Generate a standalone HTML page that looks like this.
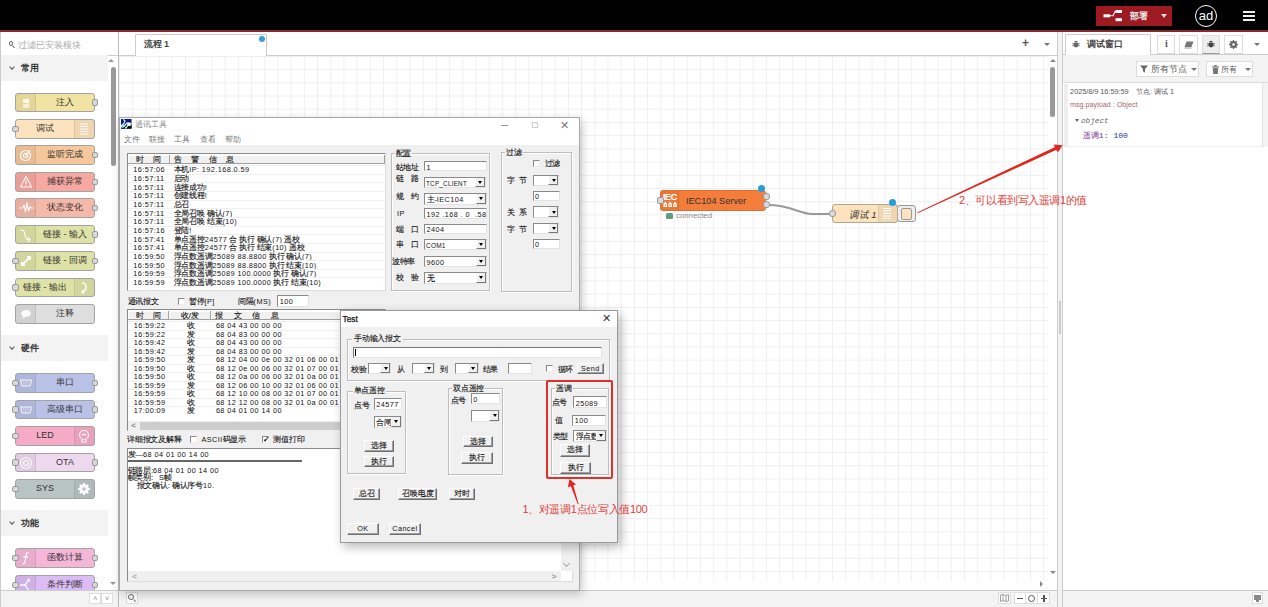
<!DOCTYPE html>
<html><head><meta charset="utf-8">
<style>
*{box-sizing:border-box;margin:0;padding:0}
html,body{width:1268px;height:607px;overflow:hidden;background:#fff}
body{font-family:"Liberation Sans",sans-serif;color:#333;position:relative}
.a{position:absolute}
/* palette nodes */
.pn{position:absolute;left:15px;width:80px;height:19.5px;border:1px solid #a3a3a3;border-radius:3px;font-size:9px;line-height:17.5px;text-align:center;color:#333}
.pn .ic{position:absolute;top:0;bottom:0;width:20px;background:rgba(0,0,0,0.055);border-right:1px solid rgba(0,0,0,0.07)}
.pn .ic.r{right:0;border-right:none;border-left:1px solid rgba(0,0,0,0.07)}
.pn .lb{position:absolute;left:20px;right:0;top:0;text-align:center}
.pn .lb.l{left:0;right:20px}
.pt{position:absolute;width:6.5px;height:6.5px;background:#d9d9d9;border:1px solid #999;border-radius:2px}
.pn .pt{top:5.5px}
.pn .pt.o{right:-4px}
.pn .pt.i{left:-4px}
.cat{position:absolute;left:1px;width:107px;height:26px;background:#f3f3f3;font-size:9px;font-weight:bold;line-height:26px;padding-left:20px;color:#333}
.cat:before{content:"";position:absolute;left:9px;top:10.3px;width:3px;height:3px;border-right:1px solid #555;border-bottom:1px solid #555;transform:rotate(45deg)}

.tx{position:absolute;font-size:8px;line-height:9px;color:#111;white-space:nowrap}
.mono,.tx.mono{font-family:"Liberation Sans",sans-serif;font-size:7.3px;letter-spacing:0.42px}
.th{position:absolute;background:#f0f0f0;border-right:1px solid #a0a0a0;border-bottom:1px solid #a0a0a0;font-size:8px;line-height:9px;color:#111;text-align:center;white-space:nowrap;box-shadow:inset 1px 1px 0 #fff}
.tbl{background:#fff;border-top:1.5px solid #8a8a8a;border-left:1.5px solid #8a8a8a;border-right:1px solid #ddd;border-bottom:1px solid #ddd}
.rw{position:absolute;height:0.6px;background:#f0f0f0}
.cb{position:absolute;width:7px;height:7px;background:#fff;border-top:1.2px solid #888;border-left:1.2px solid #888;border-right:1px solid #eee;border-bottom:1px solid #eee}
.inp{position:absolute;background:#fff;border-top:1.2px solid #8a8a8a;border-left:1.2px solid #8a8a8a;border-right:1px solid #e3e3e3;border-bottom:1px solid #e3e3e3}
.inp .tx{color:#111}
.cmb i{position:absolute;right:0;top:0;bottom:0;width:10px;background:#f0f0f0;border-left:1px solid #fff;border-right:1px solid #777;border-bottom:1px solid #777}
.cmb i:after{content:"";position:absolute;left:2.5px;top:3.2px;border-left:2.5px solid transparent;border-right:2.5px solid transparent;border-top:3px solid #000}
.grp{position:absolute;border:1px solid #bdbdbd;box-shadow:inset 1px 1px 0 #fff,1px 1px 0 #fff}
.glb{background:#f0f0f0;padding:0 1px}

.btn{position:absolute;background:#f0f0f0;border-top:1px solid #fff;border-left:1px solid #fff;border-right:1.2px solid #6f6f6f;border-bottom:1.5px solid #6f6f6f;box-shadow:inset -1px -1px 0 #a0a0a0;font-size:8px;line-height:9.5px;text-align:center;color:#111;white-space:nowrap}

.sbt{position:absolute;background:#fff;border:1px solid #ddd}
.pn .ic .iv{position:absolute;left:0;top:0;opacity:0.9}
.pn .ic.r .iv{left:-1px}
.m{font-family:"Liberation Sans",sans-serif;font-size:7.3px;letter-spacing:0.42px}
.tx{letter-spacing:-0.2px}
.tx,.btn,.th{-webkit-text-stroke:0.1px #000}
.tx.win,.m,.mono{-webkit-text-stroke:0}
</style></head><body>
<!-- header -->
<div class="a" style="left:0;top:0;width:1268px;height:30px;background:#000"></div>
<div class="a" style="left:0;top:30px;width:1268px;height:2px;background:#8a2630;z-index:5"></div>
<div class="a" style="left:1096px;top:6px;width:76px;height:20px;background:#9d1a22"></div>
<svg class="a" style="left:1103px;top:10px" width="20" height="12" viewBox="0 0 20 12"><rect x="0.5" y="4.3" width="6.5" height="3" fill="#fff"/><path d="M7 5.8 L10 5.8 L12 1.5 L13 1.5" stroke="#fff" stroke-width="1.1" fill="none"/><rect x="12.5" y="0" width="6.5" height="3" fill="#fff"/><rect x="12.5" y="8.2" width="6.5" height="3" fill="#fff"/></svg>
<div class="a" style="left:1130.4px;top:9.5px;font-size:9px;line-height:13px;color:#eee;font-weight:bold">部署</div>
<div class="a" style="left:1161px;top:14px;width:0;height:0;border-left:3.5px solid transparent;border-right:3.5px solid transparent;border-top:4px solid #ddd"></div>
<div class="a" style="left:1194.8px;top:5px;width:22px;height:22px;border:1.7px solid #fff;border-radius:50%"></div>
<div class="a" style="left:1197px;top:7.5px;width:18px;text-align:center;font-size:13px;line-height:16px;color:#fff">ad</div>
<div class="a" style="left:1243px;top:11px;width:12px;height:2px;background:#eee"></div>
<div class="a" style="left:1243px;top:15px;width:12px;height:2px;background:#eee"></div>
<div class="a" style="left:1243px;top:19px;width:12px;height:2px;background:#eee"></div>


<!-- palette -->
<div class="a" style="left:0;top:31px;width:119px;height:576px;background:#fff;border-right:1px solid #bbb;border-left:1px solid #ccc"></div>
<div class="a" style="left:1px;top:55px;width:117px;height:1px;background:#ccc"></div>
<div class="a" style="left:17.8px;top:37.5px;font-size:9px;color:#aaa;line-height:14px">过滤已安装模块</div>

<div class="cat" style="top:55px">常用</div>
<div class="pn" style="top:92.5px;background:#f1e3a1"><div class="ic"><svg class="iv" width="20" height="18" viewBox="0 0 20 18"><path d="M7 5 L11 5 L11 3 L14 7 L11 11 L11 9 L7 9" fill="#fff" opacity="0.9"/><path d="M7 10 L11 10 L11 8.5 L14 12 L11 15.5 L11 14 L7 14" fill="#fff" opacity="0.7"/></svg></div><div class="lb">注入</div><div class="pt o"></div></div>
<div class="pn" style="top:119.2px;background:#fde3bd"><div class="ic r"><svg class="iv" width="20" height="18" viewBox="0 0 20 18"><path d="M6 4 H14 M6 6.5 H14 M6 9 H14 M6 11.5 H14 M6 14 H14" stroke="#fff" stroke-width="1.1"/></svg></div><div class="lb l">调试</div><div class="pt i"></div></div>
<div class="pn" style="top:145.3px;background:#f5c79b"><div class="ic"><svg class="iv" width="20" height="18" viewBox="0 0 20 18"><circle cx="9.5" cy="9.5" r="5" stroke="#fff" stroke-width="1.2" fill="none" stroke-linecap="round" stroke-linejoin="round"/><circle cx="9.5" cy="9.5" r="2.2" stroke="#fff" stroke-width="1.2" fill="none" stroke-linecap="round" stroke-linejoin="round"/><path d="M9.5 9.5 L14 4.5" stroke="#fff" stroke-width="1.2" fill="none" stroke-linecap="round" stroke-linejoin="round"/></svg></div><div class="lb">监听完成</div><div class="pt o"></div></div>
<div class="pn" style="top:172px;background:#f7a8a1"><div class="ic"><svg class="iv" width="20" height="18" viewBox="0 0 20 18"><path d="M10 3.5 L15.5 14 L4.5 14 Z" stroke="#fff" stroke-width="1.2" fill="none" stroke-linecap="round" stroke-linejoin="round"/><path d="M10 7.5 L10 10.5 M10 12 L10 12.3" stroke="#fff" stroke-width="1.2" fill="none" stroke-linecap="round" stroke-linejoin="round"/></svg></div><div class="lb">捕获异常</div><div class="pt o"></div></div>
<div class="pn" style="top:198.4px;background:#f6b9a9"><div class="ic"><svg class="iv" width="20" height="18" viewBox="0 0 20 18"><path d="M3.5 9 L6.5 9 L8 6 L9.5 13 L11 3.5 L12.5 12 L14 7.5 L15 9 L17 9" stroke="#fff" stroke-width="1.2" fill="none" stroke-linecap="round" stroke-linejoin="round"/></svg></div><div class="lb">状态变化</div><div class="pt o"></div></div>
<div class="pn" style="top:224.7px;background:#dfe2a6"><div class="ic"><svg class="iv" width="20" height="18" viewBox="0 0 20 18"><path d="M5 4.5 Q7 3.5 8 5.5 L10 12 Q11 14 13.5 13.5" stroke="#fff" stroke-width="1.2" fill="none" stroke-linecap="round" stroke-linejoin="round"/><path d="M12 11.5 L14 13.5 L12 15.5" stroke="#fff" stroke-width="1.2" fill="none" stroke-linecap="round" stroke-linejoin="round"/></svg></div><div class="lb">链接 - 输入</div><div class="pt o"></div></div>
<div class="pn" style="top:251.3px;background:#dfe2a6"><div class="ic"><svg class="iv" width="20" height="18" viewBox="0 0 20 18"><path d="M7 12 L13 6 M11 5 L14 5 L14 8 M6 10 L6 13 L9 13" stroke="#fff" stroke-width="2" fill="none"/></svg></div><div class="lb">链接 - 回调</div><div class="pt i"></div><div class="pt o"></div></div>
<div class="pn" style="top:277.6px;background:#dfe2a6"><div class="ic r"><svg class="iv" width="20" height="18" viewBox="0 0 20 18"><path d="M8 4 Q12 4 12 8 Q12 12 8 13 M10 11 L8 13 L10 15" stroke="#fff" stroke-width="1.6" fill="none"/></svg></div><div class="lb l">链接 - 输出</div><div class="pt i"></div></div>
<div class="pn" style="top:304.3px;background:#dedede"><div class="ic"><svg class="iv" width="20" height="18" viewBox="0 0 20 18"><ellipse cx="10" cy="8.5" rx="5" ry="3.5" fill="#fff"/><path d="M7 11 L6 14 L10 11.5 Z" fill="#fff"/></svg></div><div class="lb">注释</div></div>

<div class="cat" style="top:335px">硬件</div>
<div class="pn" style="top:373px;background:#b9c1e6"><div class="ic"><svg class="iv" width="20" height="18" viewBox="0 0 20 18"><path d="M4.5 6 L15.5 6 L14 12 L6 12 Z" stroke="#fff" stroke-width="1" fill="none"/><path d="M7 8 H13 M7.5 10 H12.5" stroke="#fff" stroke-width="0.8" stroke-dasharray="1 0.6"/></svg></div><div class="lb">串口</div><div class="pt i"></div><div class="pt o"></div></div>
<div class="pn" style="top:399.8px;background:#b9c1e6"><div class="ic"><svg class="iv" width="20" height="18" viewBox="0 0 20 18"><path d="M4.5 6 L15.5 6 L14 12 L6 12 Z" stroke="#fff" stroke-width="1" fill="none"/><path d="M7 8 H13 M7.5 10 H12.5" stroke="#fff" stroke-width="0.8" stroke-dasharray="1 0.6"/></svg></div><div class="lb">高级串口</div><div class="pt i"></div><div class="pt o"></div></div>
<div class="pn" style="top:426.4px;background:#f5abc5"><div class="ic r"><svg class="iv" width="20" height="18" viewBox="0 0 20 18"><circle cx="10" cy="8" r="4.5" stroke="#fff" stroke-width="1.2" fill="none" stroke-linecap="round" stroke-linejoin="round"/><path d="M8 13 L8 15 L12 15 L12 13 M8.3 8 Q10 6.5 11.7 8" stroke="#fff" stroke-width="1.2" fill="none" stroke-linecap="round" stroke-linejoin="round"/></svg></div><div class="lb l">LED</div><div class="pt i"></div></div>
<div class="pn" style="top:452.5px;background:#eed8ef"><div class="ic"><svg class="iv" width="20" height="18" viewBox="0 0 20 18"><circle cx="10" cy="9" r="5.5" stroke="#fff" stroke-width="1.2" fill="none" stroke-linecap="round" stroke-linejoin="round"/><circle cx="10" cy="9" r="2.5" stroke="#fff" stroke-width="1.2" fill="none" stroke-linecap="round" stroke-linejoin="round"/></svg></div><div class="lb">OTA</div><div class="pt i"></div><div class="pt o"></div></div>
<div class="pn" style="top:479px;background:#b9c5c4"><div class="ic r"><svg class="iv" width="20" height="18" viewBox="0 0 20 18"><circle cx="10" cy="9" r="3.6" stroke="#fff" stroke-width="2.4" fill="none"/><path d="M10 3 V15 M4 9 H16 M5.8 4.8 L14.2 13.2 M14.2 4.8 L5.8 13.2" stroke="#fff" stroke-width="2"/><circle cx="10" cy="9" r="1.7" fill="#b9c5c4"/></svg></div><div class="lb l">SYS</div><div class="pt i"></div></div>

<div class="cat" style="top:509.8px">功能</div>
<div class="pn" style="top:548px;background:#f6b6d8"><div class="ic"><svg class="iv" width="20" height="18" viewBox="0 0 20 18"><path d="M13 3.5 Q11 2.8 10.5 5 L9 13 Q8.5 15.5 6.5 14.5 M7.5 8 H12" stroke="#fff" stroke-width="1.3" fill="none"/></svg></div><div class="lb">函数计算</div><div class="pt i"></div><div class="pt o"></div></div>
<div class="pn" style="top:575px;background:#dcbcf5"><div class="ic"><svg class="iv" width="20" height="18" viewBox="0 0 20 18"><path d="M4 9 H8 Q10 9 11 6 L13 4 M8 9 Q10 9 11 12 L13 14 M11.5 3.5 L13.5 3.5 L13.5 5.5" stroke="#fff" stroke-width="1.3" fill="none"/></svg></div><div class="lb">条件判断</div><div class="pt i"></div><div class="pt o"></div></div>
<!-- palette scrollbar -->
<div class="a" style="left:111px;top:67px;width:5px;height:99px;background:#999;border-radius:3px"></div>
<!-- palette footer -->
<div class="a" style="left:1px;top:589.5px;width:117px;height:17.5px;background:#f3f3f3;border-top:1px solid #ccc"></div>

<!-- workspace -->
<div class="a" style="left:119px;top:31px;width:938px;height:24.5px;background:#fff;border-bottom:1px solid #ccc"></div>
<div class="a" style="left:135px;top:34px;width:132px;height:22px;background:#fff;border:1px solid #ccc;border-bottom:none"></div>
<div class="a" style="left:143.6px;top:37.5px;font-size:9px;line-height:13px;color:#444;font-weight:bold">流程 1</div>
<div class="a" style="left:119px;top:55.5px;width:929px;height:525px;background-color:#fff;background-image:linear-gradient(to right,#efefef 1px,transparent 1px),linear-gradient(to bottom,#efefef 1px,transparent 1px);background-size:13.21px 13.21px;background-position:0 0"></div>
<div class="a" style="left:119px;top:589.5px;width:938px;height:17.5px;background:#f3f3f3;border-top:1px solid #ccc"></div>
<div class="a" style="left:1057px;top:31px;width:6px;height:576px;background:#f3f3f3;border-left:1px solid #ccc;border-right:1px solid #ccc"></div>
<div class="a" style="left:1049.6px;top:67px;width:5.4px;height:50px;background:#999;border-radius:3px"></div>

<div class="a" style="left:1058.8px;top:300.7px;width:2.4px;height:33px;background:#ccc"></div>
<!-- sidebar -->
<div class="a" style="left:1063px;top:31px;width:205px;height:24px;background:#fff;border-bottom:1px solid #ccc"></div>
<div class="a" style="left:1064.5px;top:34px;width:86px;height:21px;background:#fff;border:1px solid #ccc;border-bottom:none"></div>
<div class="a" style="left:1063px;top:55px;width:205px;height:27.5px;background:#f3f3f3;border-bottom:1px solid #ddd"></div>
<div class="a" style="left:1063px;top:83px;width:205px;height:506px;background:#fff"></div>
<div class="a" style="left:1063px;top:589.5px;width:205px;height:17.5px;background:#f3f3f3;border-top:1px solid #ccc"></div>

<!-- palette search icon, footer buttons -->
<div class="a" style="left:8.5px;top:41px;width:4.5px;height:4.5px;border:1.2px solid #666;border-radius:50%"></div>
<div class="a" style="left:12.3px;top:45.5px;width:2.5px;height:1.3px;background:#666;transform:rotate(45deg)"></div>
<div class="a" style="left:108px;top:59px;width:0;height:0;border-left:3.5px solid transparent;border-right:3.5px solid transparent;border-bottom:3.5px solid #999"></div>
<div class="a" style="left:109.5px;top:581.5px;width:0;height:0;border-left:3.5px solid transparent;border-right:3.5px solid transparent;border-top:3.5px solid #999"></div>
<div class="a" style="left:89.4px;top:592.6px;width:11.6px;height:11.4px;background:#fff;border:1px solid #ddd;font-size:7px;line-height:9px;text-align:center;color:#888">&#x02C4;</div>
<div class="a" style="left:101.4px;top:592.6px;width:11.5px;height:11.4px;background:#fff;border:1px solid #ddd;font-size:7px;line-height:9px;text-align:center;color:#888">&#x02C5;</div>

<!-- workspace tab extra -->
<div class="a" style="left:258.9px;top:35.9px;width:6px;height:6px;border-radius:50%;background:#3aa0dc"></div>
<div class="a" style="left:1021.9px;top:37px;font-size:12px;line-height:13px;font-weight:bold;color:#555">+</div>
<div class="a" style="left:1044.4px;top:43px;width:0;height:0;border-left:3px solid transparent;border-right:3px solid transparent;border-top:3.5px solid #777"></div>
<div class="a" style="left:1049.5px;top:59px;width:0;height:0;border-left:3px solid transparent;border-right:3px solid transparent;border-bottom:3.5px solid #888"></div>
<div class="a" style="left:1049.5px;top:570.5px;width:0;height:0;border-left:3px solid transparent;border-right:3px solid transparent;border-top:3.5px solid #888"></div>
<div class="a" style="left:1039.5px;top:581px;width:0;height:0;border-top:3px solid transparent;border-bottom:3px solid transparent;border-left:3.5px solid #888"></div>
<!-- workspace footer buttons -->
<div class="a" style="left:125.5px;top:592px;width:12px;height:12px;background:#fff;border:1px solid #ddd"></div>
<div class="a" style="left:128px;top:594px;width:6px;height:6px;border:1.3px solid #666;border-radius:50%"></div>
<div class="a" style="left:133px;top:600px;width:3px;height:1.4px;background:#666;transform:rotate(45deg)"></div>
<div class="a" style="left:998px;top:592.3px;width:12.7px;height:11.7px;background:#fff;border:1px solid #ddd"></div>
<svg class="a" style="left:1000px;top:594px" width="9" height="8" viewBox="0 0 9 8"><path d="M0.5 1 L3 0.5 L6 1.5 L8.5 0.5 L8.5 7 L6 7.5 L3 6.5 L0.5 7.5 Z M3 0.5 L3 6.5 M6 1.5 L6 7.5" stroke="#888" stroke-width="0.8" fill="none"/></svg>
<div class="a" style="left:1013.6px;top:592.3px;width:36.9px;height:11.7px;background:#fff;border:1px solid #ddd"></div>
<div class="a" style="left:1025px;top:592.3px;width:1px;height:11.7px;background:#ddd"></div>
<div class="a" style="left:1037px;top:592.3px;width:1px;height:11.7px;background:#ddd"></div>
<div class="a" style="left:1016.5px;top:597.5px;width:6px;height:1.5px;background:#555"></div>
<div class="a" style="left:1028px;top:594.5px;width:7px;height:7px;border:1.2px solid #555;border-radius:50%"></div>
<div class="a" style="left:1040.5px;top:597.5px;width:6.5px;height:1.5px;background:#555"></div>
<div class="a" style="left:1043px;top:595px;width:1.5px;height:6.5px;background:#555"></div>
<!-- sidebar footer button -->
<div class="a" style="left:1251.6px;top:592.3px;width:11.4px;height:11.7px;background:#fff;border:1px solid #ddd"></div>
<div class="a" style="left:1253.5px;top:594.5px;width:7.5px;height:5px;background:#888"></div>
<div class="a" style="left:1256px;top:599.5px;width:2.5px;height:2px;background:#888"></div>

<!-- sidebar tabs -->
<svg class="a" style="left:1072px;top:40px" width="8" height="8" viewBox="0 0 8 8"><path d="M2.5 1.5 Q4 0 5.5 1.5 L6 2.5 L2 2.5 Z M1.5 3 L6.5 3 L6.5 6 Q4 8.5 1.5 6 Z" fill="#666"/><path d="M0 3.5 L1.5 4 M0 6 L1.5 5.5 M8 3.5 L6.5 4 M8 6 L6.5 5.5 M4 3 L4 7.5" stroke="#666" stroke-width="0.7"/></svg>
<div class="a" style="left:1086.5px;top:37.5px;font-size:9px;line-height:13px;font-weight:bold;color:#444">调试窗口</div>
<div class="a sbt" style="left:1157.4px;top:35.2px;width:18.1px;height:18.4px;font-family:'Liberation Serif',serif;font-weight:bold;font-size:10px;line-height:16px;text-align:center;color:#555">i</div>
<div class="a sbt" style="left:1179.3px;top:35.2px;width:18.5px;height:18.4px"></div>
<svg class="a" style="left:1183.5px;top:40.5px" width="10" height="8" viewBox="0 0 10 8"><path d="M2.5 0.5 L9.5 0.5 L7.5 6 L0.5 6 Z" fill="#777"/><path d="M0.5 6.5 L7.5 6.5 L7.5 7.5 L0.5 7.5 Z" fill="#999"/></svg>
<div class="a sbt" style="left:1202.2px;top:35.2px;width:18.1px;height:18.4px;background:#eee;border-bottom:1.5px solid #999"></div>
<svg class="a" style="left:1207px;top:40px" width="8" height="8" viewBox="0 0 8 8"><path d="M2.5 1.5 Q4 0 5.5 1.5 L6 2.5 L2 2.5 Z M1.5 3 L6.5 3 L6.5 6 Q4 8.5 1.5 6 Z" fill="#444"/><path d="M0 3.5 L1.5 4 M0 6 L1.5 5.5 M8 3.5 L6.5 4 M8 6 L6.5 5.5 M4 3 L4 7.5" stroke="#444" stroke-width="0.7"/></svg>
<div class="a sbt" style="left:1224.3px;top:35.2px;width:18.5px;height:18.4px"></div>
<svg class="a" style="left:1229px;top:39.8px" width="9" height="9" viewBox="0 0 9 9"><circle cx="4.5" cy="4.5" r="2.6" fill="none" stroke="#666" stroke-width="1.6"/><path d="M4.5 0 L4.5 9 M0 4.5 L9 4.5 M1.3 1.3 L7.7 7.7 M7.7 1.3 L1.3 7.7" stroke="#666" stroke-width="1.3"/><circle cx="4.5" cy="4.5" r="1.3" fill="#fff"/></svg>
<div class="a" style="left:1253.7px;top:43px;width:0;height:0;border-left:3px solid transparent;border-right:3px solid transparent;border-top:3.5px solid #777"></div>
<!-- debug toolbar -->
<div class="a sbt" style="left:1135.5px;top:61.1px;width:63.4px;height:15.9px"></div>
<svg class="a" style="left:1140px;top:65px" width="8" height="8" viewBox="0 0 8 8"><path d="M0 0.5 L8 0.5 L5 4 L5 7.5 L3 6.5 L3 4 Z" fill="#666"/></svg>
<div class="a" style="left:1150.5px;top:62.6px;font-size:8.5px;line-height:13px;color:#555">所有节点</div>
<div class="a" style="left:1191px;top:68px;width:0;height:0;border-left:3px solid transparent;border-right:3px solid transparent;border-top:3.5px solid #777"></div>
<div class="a sbt" style="left:1206.4px;top:61.1px;width:47.1px;height:15.9px"></div>
<svg class="a" style="left:1211.5px;top:64.5px" width="7" height="9" viewBox="0 0 7 9"><rect x="0" y="1.3" width="7" height="1.2" fill="#777"/><rect x="2.3" y="0" width="2.4" height="1.5" fill="#777"/><path d="M0.8 3 L6.2 3 L5.8 9 L1.2 9 Z" fill="#777"/></svg>
<div class="a" style="left:1220.8px;top:62.6px;font-size:8.4px;line-height:13px;color:#555">所有</div>
<div class="a" style="left:1245px;top:68px;width:0;height:0;border-left:3px solid transparent;border-right:3px solid transparent;border-top:3.5px solid #777"></div>
<!-- debug message -->
<div class="a" style="left:1063.8px;top:83.5px;width:198px;height:63px;background:#fff;border-left:4.5px solid #eee;border-bottom:1px solid #eee"></div>
<div class="a" style="left:1262px;top:83px;width:6px;height:63.5px;background:#f3f3f3;border-left:1px solid #e5e5e5"></div>
<div class="a" style="left:1070.1px;top:87px;font-size:7.25px;line-height:9px;color:#555;white-space:nowrap">2025/8/9 16:59:59</div><div class="a" style="left:1135.8px;top:87px;font-size:7.3px;line-height:9px;color:#555;white-space:nowrap">节点: 调试 1</div>
<div class="a" style="left:1070px;top:100.3px;font-size:7.2px;line-height:9px;color:#a66;white-space:nowrap">msg.payload : Object</div>
<div class="a" style="left:1074.5px;top:119px;width:0;height:0;border-left:2.8px solid transparent;border-right:2.8px solid transparent;border-top:3.5px solid #666"></div>
<div class="a" style="left:1081px;top:116px;font-family:'Liberation Mono',monospace;font-style:italic;font-size:7.7px;line-height:10px;color:#666">object</div>
<div class="a" style="left:1082.8px;top:131px;font-family:'Liberation Mono',monospace;font-size:8.1px;line-height:10px;white-space:nowrap"><span style="color:#792e90">遥调1</span><span style="color:#555">:</span> <span style="color:#2033a0">100</span></div>

<!-- canvas nodes -->
<svg class="a" style="left:760px;top:195px" width="80" height="25" viewBox="760 195 80 25"><path d="M768 205 C 790 205, 800 213.9, 812 213.9 L 832 213.9" stroke="#999" stroke-width="2" fill="none"/></svg>
<div class="a" style="left:659.9px;top:190.2px;width:106px;height:20.5px;background:#f47d3c;border:1px solid #e07030;border-radius:3px"></div>
<div class="a" style="left:660.9px;top:191.2px;width:18.4px;height:18.5px;background:rgba(0,0,0,0.04);border-right:1px solid rgba(0,0,0,0.08)"></div>
<div class="a" style="left:662.8px;top:192.2px;font-size:9.6px;line-height:9px;font-weight:bold;color:#fff;letter-spacing:-0.7px">IEC</div>
<svg class="a" style="left:662.8px;top:200px" width="14.2" height="7.5" viewBox="0 0 16 8" preserveAspectRatio="none"><path d="M0.5 7.5 L0.5 4 L2.5 1.5 L4.5 4 L4.5 7.5 Z M6 7.5 L6 4 L8 1.5 L10 4 L10 7.5 Z M11.5 7.5 L11.5 4 L13.5 1.5 L15.5 4 L15.5 7.5 Z" fill="#fff"/><path d="M1.8 5.5 H3.2 M7.3 5.5 H8.7 M12.8 5.5 H14.2" stroke="#f47d3c" stroke-width="1.2"/></svg>
<div class="a" style="left:685.9px;top:195px;font-size:9.2px;line-height:12px;color:#333;white-space:nowrap">IEC104 Server</div>
<div class="pt" style="left:656.6px;top:197.2px;width:7.2px;height:6.5px;border-radius:1.8px"></div>
<div class="pt" style="left:763.2px;top:192.8px;width:7px;height:7px;border-radius:3px"></div>
<div class="pt" style="left:763.2px;top:201px;width:7px;height:7px;border-radius:3px"></div>
<div class="a" style="left:757.5px;top:184.8px;width:7px;height:7px;border-radius:50%;background:#239fdb"></div>
<div class="a" style="left:666px;top:212.6px;width:6.6px;height:6.6px;background:#5a9f80;border-radius:1.5px"></div>
<div class="a" style="left:676px;top:211px;font-size:7.8px;line-height:10px;color:#888">connected</div>

<div class="a" style="left:897px;top:205.4px;width:18.5px;height:16.8px;background:#eee;border:1px solid #999;border-radius:3px"></div>
<div class="a" style="left:901.4px;top:208px;width:10.8px;height:11.5px;background:#fde3bd;border:1px solid #999;border-radius:2px"></div>
<div class="a" style="left:832.1px;top:204.1px;width:65.5px;height:19.1px;background:#fde3bd;border:1px solid #b5a58a;border-radius:3px"></div>
<div class="a" style="left:878px;top:205.1px;width:18.6px;height:17.1px;background:rgba(0,0,0,0.05);border-left:1px solid rgba(0,0,0,0.08)"></div>
<svg class="a" style="left:883px;top:207px" width="8" height="13" viewBox="0 0 8 13"><path d="M0 1.5 H8 M0 4 H8 M0 6.5 H8 M0 9 H8 M0 11.5 H8" stroke="#fff" stroke-width="1.2"/></svg>
<div class="a" style="left:848.5px;top:208.5px;font-size:9.5px;line-height:11px;font-style:italic;color:#333;white-space:nowrap">调试 1</div>
<div class="pt" style="left:828.8px;top:210.4px;width:7px;height:7px;border-radius:3px"></div>
<div class="a" style="left:889.2px;top:198.6px;width:7px;height:7px;border-radius:50%;background:#239fdb"></div>

<!-- comm tool window -->
<div class="a" id="win" style="left:119px;top:116.5px;width:461px;height:474px;background:#f0f0f0;border:1px solid #a8a8a8;box-shadow:2px 3px 9px rgba(0,0,0,0.22)"></div>
<div class="a" style="left:120px;top:117.5px;width:459px;height:27.5px;background:#fff"></div>
<svg class="a" style="left:121px;top:119.3px" width="10.5" height="9.6" viewBox="0 0 10.5 9.6"><rect x="0" y="0" width="10.5" height="9.6" fill="#10108a"/><rect x="0" y="6" width="10.5" height="3.6" fill="#000"/><path d="M2 1 Q3.5 0.5 4 2 L3 4 Q2 5.5 0.5 6.5 L0.5 8 Q2 8.5 3.5 7 L5 5 Q6 3.5 7.5 4 L9.5 4.5 L9 6.5 L7 6 L6 7.5 Q5.5 9 4 9.2" stroke="#cfe" stroke-width="1.3" fill="none"/><circle cx="7.8" cy="5.2" r="1.4" fill="#fff"/><circle cx="2.3" cy="6.3" r="1.2" fill="#8ee"/></svg>
<div class="a win" style="left:134.7px;top:120px;font-size:7.9px;line-height:10px;color:#888">通讯工具</div>
<div class="a" style="left:501px;top:125px;width:7px;height:1px;background:#999"></div>
<div class="a" style="left:531.5px;top:121.8px;width:6.5px;height:6px;border:1px solid #ccc"></div>
<div class="a" style="left:559.5px;top:118.5px;font-size:10.5px;line-height:12px;color:#777">&#x2715;</div>
<div class="a win" style="left:123.8px;top:134.6px;font-size:7.7px;line-height:10px;color:#777;word-spacing:0">文件</div>
<div class="a win" style="left:148.5px;top:134.6px;font-size:7.7px;line-height:10px;color:#777">联接</div>
<div class="a win" style="left:173.8px;top:134.6px;font-size:7.7px;line-height:10px;color:#777">工具</div>
<div class="a win" style="left:199.5px;top:134.6px;font-size:7.7px;line-height:10px;color:#777">查看</div>
<div class="a win" style="left:224.7px;top:134.6px;font-size:7.7px;line-height:10px;color:#777">帮助</div>

<div class="a tbl" style="left:126.5px;top:153px;width:259.5px;height:138px"></div>
<div class="a th" style="left:128px;top:154.5px;width:41.7px;height:9.5px">时&nbsp;&nbsp;&nbsp;&nbsp;间</div>
<div class="a th" style="left:169.7px;top:154.5px;width:215.3px;height:9.5px;text-align:left;padding-left:4px;letter-spacing:9.5px">告警信息</div>
<div class="a rw" style="left:128px;top:165.0px;width:257px"></div>
<div class="a tx mono" style="left:133.3px;top:165.3px">16:57:06</div>
<div class="a tx" style="left:173.6px;top:165.3px">本机<span class="m">IP: 192.168.0.59</span></div>
<div class="a rw" style="left:128px;top:173.7px;width:257px"></div>
<div class="a tx mono" style="left:133.3px;top:174.0px">16:57:11</div>
<div class="a tx" style="left:173.6px;top:174.0px">启动</div>
<div class="a rw" style="left:128px;top:182.3px;width:257px"></div>
<div class="a tx mono" style="left:133.3px;top:182.6px">16:57:11</div>
<div class="a tx" style="left:173.6px;top:182.6px">连接成功<span class="m">!</span></div>
<div class="a rw" style="left:128px;top:190.9px;width:257px"></div>
<div class="a tx mono" style="left:133.3px;top:191.2px">16:57:11</div>
<div class="a tx" style="left:173.6px;top:191.2px">创建线程<span class="m">!</span></div>
<div class="a rw" style="left:128px;top:199.6px;width:257px"></div>
<div class="a tx mono" style="left:133.3px;top:199.9px">16:57:11</div>
<div class="a tx" style="left:173.6px;top:199.9px">总召</div>
<div class="a rw" style="left:128px;top:208.2px;width:257px"></div>
<div class="a tx mono" style="left:133.3px;top:208.6px">16:57:11</div>
<div class="a tx" style="left:173.6px;top:208.6px">全局召唤 确认<span class="m">(7)</span></div>
<div class="a rw" style="left:128px;top:216.9px;width:257px"></div>
<div class="a tx mono" style="left:133.3px;top:217.2px">16:57:11</div>
<div class="a tx" style="left:173.6px;top:217.2px">全局召唤 结束<span class="m">(10)</span></div>
<div class="a rw" style="left:128px;top:225.6px;width:257px"></div>
<div class="a tx mono" style="left:133.3px;top:225.9px">16:57:16</div>
<div class="a tx" style="left:173.6px;top:225.9px">登陆<span class="m">!</span></div>
<div class="a rw" style="left:128px;top:234.2px;width:257px"></div>
<div class="a tx mono" style="left:133.3px;top:234.5px">16:57:41</div>
<div class="a tx" style="left:173.6px;top:234.5px">单点遥控<span class="m">24577</span> 合 执行 确认<span class="m">(7)</span> 遥校</div>
<div class="a rw" style="left:128px;top:242.9px;width:257px"></div>
<div class="a tx mono" style="left:133.3px;top:243.2px">16:57:41</div>
<div class="a tx" style="left:173.6px;top:243.2px">单点遥控<span class="m">24577</span> 合 执行 结束<span class="m">(10)</span> 遥校</div>
<div class="a rw" style="left:128px;top:251.5px;width:257px"></div>
<div class="a tx mono" style="left:133.3px;top:251.8px">16:59:50</div>
<div class="a tx" style="left:173.6px;top:251.8px">浮点数遥调<span class="m">25089 88.8800</span> 执行 确认<span class="m">(7)</span></div>
<div class="a rw" style="left:128px;top:260.2px;width:257px"></div>
<div class="a tx mono" style="left:133.3px;top:260.5px">16:59:50</div>
<div class="a tx" style="left:173.6px;top:260.5px">浮点数遥调<span class="m">25089 88.8800</span> 执行 结束<span class="m">(10)</span></div>
<div class="a rw" style="left:128px;top:268.8px;width:257px"></div>
<div class="a tx mono" style="left:133.3px;top:269.1px">16:59:59</div>
<div class="a tx" style="left:173.6px;top:269.1px">浮点数遥调<span class="m">25089 100.0000</span> 执行 确认<span class="m">(7)</span></div>
<div class="a rw" style="left:128px;top:277.4px;width:257px"></div>
<div class="a tx mono" style="left:133.3px;top:277.8px">16:59:59</div>
<div class="a tx" style="left:173.6px;top:277.8px">浮点数遥调<span class="m">25089 100.0000</span> 执行 结束<span class="m">(10)</span></div>
<div class="a tx" style="left:127.7px;top:296.5px">通讯报文</div>
<div class="a cb" style="left:177.8px;top:297.5px"></div>
<div class="a tx" style="left:189px;top:296.5px">暂停<span class="m">[P]</span></div>
<div class="a tx" style="left:238px;top:296.5px">间隔<span class="m">(MS)</span></div>
<div class="a inp" style="left:276.8px;top:295.3px;width:32px;height:12px"><span class="tx mono" style="position:absolute;left:2px;top:0.3px">100</span></div>

<div class="a tbl" style="left:126.5px;top:309.4px;width:259.5px;height:122px"></div>
<div class="a th" style="left:128px;top:311px;width:41.3px;height:9px">时&nbsp;&nbsp;&nbsp;&nbsp;间</div>
<div class="a th" style="left:169.3px;top:311px;width:42.1px;height:9px">收/发</div>
<div class="a th" style="left:211.4px;top:311px;width:174px;height:9px;text-align:left;padding-left:4px;letter-spacing:10.5px">报文信息</div>
<div class="a rw" style="left:128px;top:321.0px;width:257px"></div>
<div class="a tx mono" style="left:133.8px;top:321.3px">16:59:22</div>
<div class="a tx" style="left:186.7px;top:321.3px">收</div>
<div class="a tx mono hex" style="left:215.9px;top:321.3px">68 04 43 00 00 00</div>
<div class="a rw" style="left:128px;top:329.5px;width:257px"></div>
<div class="a tx mono" style="left:133.8px;top:329.8px">16:59:22</div>
<div class="a tx" style="left:186.7px;top:329.8px">发</div>
<div class="a tx mono hex" style="left:215.9px;top:329.8px">68 04 83 00 00 00</div>
<div class="a rw" style="left:128px;top:338.0px;width:257px"></div>
<div class="a tx mono" style="left:133.8px;top:338.3px">16:59:42</div>
<div class="a tx" style="left:186.7px;top:338.3px">收</div>
<div class="a tx mono hex" style="left:215.9px;top:338.3px">68 04 43 00 00 00</div>
<div class="a rw" style="left:128px;top:346.5px;width:257px"></div>
<div class="a tx mono" style="left:133.8px;top:346.8px">16:59:42</div>
<div class="a tx" style="left:186.7px;top:346.8px">发</div>
<div class="a tx mono hex" style="left:215.9px;top:346.8px">68 04 83 00 00 00</div>
<div class="a rw" style="left:128px;top:355.0px;width:257px"></div>
<div class="a tx mono" style="left:133.8px;top:355.3px">16:59:50</div>
<div class="a tx" style="left:186.7px;top:355.3px">发</div>
<div class="a tx mono hex" style="left:215.9px;top:355.3px">68 12 04 00 0e 00 32 01 06 00 01</div>
<div class="a rw" style="left:128px;top:363.5px;width:257px"></div>
<div class="a tx mono" style="left:133.8px;top:363.8px">16:59:50</div>
<div class="a tx" style="left:186.7px;top:363.8px">收</div>
<div class="a tx mono hex" style="left:215.9px;top:363.8px">68 12 0e 00 06 00 32 01 07 00 01</div>
<div class="a rw" style="left:128px;top:372.0px;width:257px"></div>
<div class="a tx mono" style="left:133.8px;top:372.3px">16:59:50</div>
<div class="a tx" style="left:186.7px;top:372.3px">收</div>
<div class="a tx mono hex" style="left:215.9px;top:372.3px">68 12 0a 00 06 00 32 01 0a 00 01</div>
<div class="a rw" style="left:128px;top:380.5px;width:257px"></div>
<div class="a tx mono" style="left:133.8px;top:380.8px">16:59:59</div>
<div class="a tx" style="left:186.7px;top:380.8px">发</div>
<div class="a tx mono hex" style="left:215.9px;top:380.8px">68 12 06 00 10 00 32 01 06 00 01</div>
<div class="a rw" style="left:128px;top:389.0px;width:257px"></div>
<div class="a tx mono" style="left:133.8px;top:389.3px">16:59:59</div>
<div class="a tx" style="left:186.7px;top:389.3px">收</div>
<div class="a tx mono hex" style="left:215.9px;top:389.3px">68 12 10 00 08 00 32 01 07 00 01</div>
<div class="a rw" style="left:128px;top:397.5px;width:257px"></div>
<div class="a tx mono" style="left:133.8px;top:397.8px">16:59:59</div>
<div class="a tx" style="left:186.7px;top:397.8px">收</div>
<div class="a tx mono hex" style="left:215.9px;top:397.8px">68 12 12 00 08 00 32 01 0a 00 01</div>
<div class="a rw" style="left:128px;top:406.0px;width:257px"></div>
<div class="a tx mono" style="left:133.8px;top:406.3px">17:00:09</div>
<div class="a tx" style="left:186.7px;top:406.3px">发</div>
<div class="a tx mono hex" style="left:215.9px;top:406.3px">68 04 01 00 14 00</div>
<div class="a" style="left:128px;top:421px;width:257px;height:9.5px;background:#f0f0f0"></div>
<div class="a" style="left:140px;top:422px;width:245px;height:8px;background:#cdcdcd"></div>
<div class="a tx" style="left:131px;top:421px;color:#777">&lt;</div>
<div class="a tx" style="left:127px;top:435px">详细报文及解释</div>
<div class="a cb" style="left:190px;top:436px"></div>
<div class="a tx" style="left:201.5px;top:435px"><span class="m">ASCII</span>码显示</div>
<div class="a cb" style="left:261.7px;top:436px;font-size:8px;line-height:6px;text-align:center;color:#000;font-weight:bold">&#x2713;</div>
<div class="a tx" style="left:273.2px;top:435px">测值打印</div>
<div class="a tbl" style="left:126.5px;top:447.8px;width:446.5px;height:134px"></div>
<div class="a tx" style="left:127.5px;top:449.5px">发—<span class="mono">68 04 01 00 14 00</span></div>
<div class="a" style="left:127.5px;top:460.2px;width:174.5px;height:1.8px;background:#666"></div>
<div class="a tx" style="left:127.5px;top:465.5px">链路层:<span class="mono">68 04 01 00 14 00</span></div>
<div class="a tx" style="left:127.5px;top:473px">帧类别:&nbsp;&nbsp;&nbsp;<span class="mono">S</span>帧</div>
<div class="a tx" style="left:136.5px;top:481px">报文确认: 确认序号<span class="mono">10.</span></div>
<div class="a" style="left:561px;top:449.5px;width:11.5px;height:121.5px;background:#f0f0f0"></div>
<div class="a" style="left:128px;top:571px;width:433px;height:10px;background:#f0f0f0"></div>
<div class="a tx" style="left:552px;top:571.5px;color:#999">&gt;</div>
<div class="a tx" style="left:132px;top:571.5px;color:#bbb">&lt;</div>
<div class="a" style="left:563.5px;top:561px;width:5px;height:5px;border-right:1px solid #aaa;border-bottom:1px solid #aaa;transform:rotate(45deg)"></div>

<div class="a grp" style="left:390.6px;top:152.5px;width:99.9px;height:138.7px"></div>
<div class="a tx glb" style="left:394.5px;top:148.5px">配置</div>
<div class="a tx" style="left:395.6px;top:162.5px">站地址</div>
<div class="a inp" style="left:423.5px;top:161.1px;width:63.3px;height:10.3px"><span class="tx mono" style="position:absolute;left:2px;top:0.5px">1</span></div>
<div class="a tx" style="left:395.6px;top:173.8px;letter-spacing:7px">链路</div>
<div class="a inp cmb" style="left:423.5px;top:177px;width:62px;height:11.1px"><span class="tx mono" style="position:absolute;left:1.5px;top:1px;font-size:6.3px;letter-spacing:0.25px">TCP_CLIENT</span><i></i></div>
<div class="a tx" style="left:395.6px;top:192.2px;letter-spacing:7px">规约</div>
<div class="a inp cmb" style="left:423.5px;top:192.8px;width:63.3px;height:11.8px"><span class="tx" style="position:absolute;left:2px;top:1.3px">主-<span class="mono">IEC104</span></span><i></i></div>
<div class="a tx mono" style="left:397px;top:208.7px">IP</div>
<div class="a inp" style="left:423.5px;top:208px;width:63.3px;height:11.1px"><span class="tx mono" style="position:absolute;left:2px;top:1px">192 .168 . 0&nbsp;&nbsp;.58</span></div>
<div class="a tx" style="left:395.6px;top:225px;letter-spacing:7px">端口</div>
<div class="a inp" style="left:423.5px;top:223.6px;width:63.3px;height:10.5px"><span class="tx mono" style="position:absolute;left:2px;top:0.8px">2404</span></div>
<div class="a tx" style="left:395.6px;top:239.5px;letter-spacing:7px">串口</div>
<div class="a inp cmb" style="left:423.5px;top:238.5px;width:63.3px;height:11.1px"><span class="tx mono" style="position:absolute;left:1.5px;top:1px;font-size:6.5px;letter-spacing:0.2px">COM1</span><i></i></div>
<div class="a tx" style="left:391.9px;top:256.7px">波特率</div>
<div class="a inp cmb" style="left:423.5px;top:255.6px;width:63.3px;height:11.5px"><span class="tx mono" style="position:absolute;left:2px;top:1.2px">9600</span><i></i></div>
<div class="a tx" style="left:395.6px;top:273.1px;letter-spacing:7px">校验</div>
<div class="a inp cmb" style="left:423.5px;top:272px;width:63.3px;height:11.6px"><span class="tx" style="position:absolute;left:2px;top:1.3px">无</span><i></i></div>

<div class="a grp" style="left:501.2px;top:152.4px;width:70.5px;height:139.3px"></div>
<div class="a tx glb" style="left:505px;top:148px">过滤</div>
<div class="a cb" style="left:532.6px;top:159.8px;width:7px;height:7px"></div>
<div class="a tx" style="left:544.5px;top:159px">过滤</div>
<div class="a tx" style="left:506.9px;top:176.4px;letter-spacing:4px">字节</div>
<div class="a inp cmb" style="left:532.6px;top:174.7px;width:26.7px;height:11.1px"><i></i></div>
<div class="a inp" style="left:532.6px;top:190.8px;width:27.2px;height:9.8px"><span class="tx mono" style="position:absolute;left:1.5px;top:0.3px">0</span></div>
<div class="a tx" style="left:506.9px;top:207.8px;letter-spacing:4px">关系</div>
<div class="a inp cmb" style="left:532.6px;top:206.4px;width:26.7px;height:11.6px"><i></i></div>
<div class="a tx" style="left:506.9px;top:224.6px;letter-spacing:4px">字节</div>
<div class="a inp cmb" style="left:532.6px;top:222.9px;width:26.7px;height:11.1px"><i></i></div>
<div class="a inp" style="left:532.6px;top:238.5px;width:27.2px;height:10.4px"><span class="tx mono" style="position:absolute;left:1.5px;top:0.6px">0</span></div>

<!-- Test dialog -->
<div class="a" style="left:339.5px;top:309.8px;width:278px;height:233.5px;background:#f0f0f0;border:1px solid #9a9a9a;box-shadow:3px 4px 10px rgba(0,0,0,0.28)"></div>
<div class="a" style="left:340.5px;top:310.8px;width:276px;height:16.2px;background:#fff"></div>
<div class="a" style="left:342.5px;top:313.5px;font-size:8.3px;line-height:10px;color:#111;-webkit-text-stroke:0.25px #111">Test</div>
<div class="a" style="left:601.5px;top:312px;font-size:11px;line-height:12px;color:#333">&#x2715;</div>
<div class="a grp" style="left:347.1px;top:338.5px;width:262.5px;height:42px"></div>
<div class="a tx glb" style="left:352px;top:334px;padding:0 2px">手动输入报文</div>
<div class="a inp" style="left:353px;top:347.3px;width:249px;height:10.4px;border-top:1.5px solid #777;border-left:1.5px solid #777"><div style="position:absolute;left:1px;top:1px;width:1px;height:7px;background:#000"></div></div>
<div class="a tx" style="left:351.1px;top:364.7px">校验</div>
<div class="a inp cmb" style="left:368.2px;top:362.6px;width:23.1px;height:11.2px"><i></i></div>
<div class="a tx" style="left:397.3px;top:364.7px">从</div>
<div class="a inp cmb" style="left:411.8px;top:362.6px;width:23px;height:11.2px"><i></i></div>
<div class="a tx" style="left:440px;top:364.7px">到</div>
<div class="a inp cmb" style="left:455px;top:362.6px;width:23.7px;height:11.3px"><i></i></div>
<div class="a tx" style="left:482.7px;top:364.7px">结果</div>
<div class="a inp" style="left:508.2px;top:362.6px;width:23.5px;height:11.3px"></div>
<div class="a cb" style="left:545.6px;top:365.2px"></div>
<div class="a tx" style="left:557.6px;top:364.7px">循环</div>
<div class="a btn" style="left:577px;top:363px;width:26.6px;height:10.7px"><span class="mono">Send</span></div>

<div class="a grp" style="left:347.4px;top:390.7px;width:58.6px;height:83.5px"></div>
<div class="a tx glb" style="left:352.5px;top:386.2px">单点遥控</div>
<div class="a tx" style="left:354px;top:401px">点号</div>
<div class="a inp" style="left:373.8px;top:398px;width:28.5px;height:12.4px"><span class="tx mono" style="position:absolute;left:1.5px;top:1.3px">24577</span></div>
<div class="a inp cmb" style="left:373.8px;top:416.2px;width:28px;height:11.5px"><span class="tx" style="position:absolute;left:1.5px;top:1px">合闸</span><i></i></div>
<div class="a btn" style="left:363.9px;top:440px;width:29.7px;height:11.6px">选择</div>
<div class="a btn" style="left:363.9px;top:455.8px;width:30.5px;height:11.5px">执行</div>

<div class="a grp" style="left:447.6px;top:387.7px;width:55.8px;height:87px"></div>
<div class="a tx glb" style="left:452px;top:383.5px">双点遥控</div>
<div class="a tx" style="left:450.5px;top:396px">点号</div>
<div class="a inp" style="left:470.8px;top:393px;width:29px;height:11px"><span class="tx mono" style="position:absolute;left:1.5px;top:0.5px">0</span></div>
<div class="a inp cmb" style="left:470.5px;top:410.3px;width:29.7px;height:11.5px"><i></i></div>
<div class="a btn" style="left:462.7px;top:435.7px;width:29.9px;height:11.8px">选择</div>
<div class="a btn" style="left:461.4px;top:452px;width:31.2px;height:11.8px">执行</div>

<div class="a grp" style="left:550.6px;top:388px;width:58px;height:86.7px"></div>
<div class="a tx glb" style="left:555px;top:383.5px">遥调</div>
<div class="a tx" style="left:551.5px;top:397.7px">点号</div>
<div class="a inp" style="left:573.2px;top:396.4px;width:33.6px;height:12.1px"><span class="tx mono" style="position:absolute;left:1.5px;top:1.2px">25089</span></div>
<div class="a tx" style="left:555px;top:415.8px">值</div>
<div class="a inp" style="left:572.3px;top:414.9px;width:34.1px;height:10.9px"><span class="tx mono" style="position:absolute;left:1.5px;top:0.6px">100</span></div>
<div class="a tx" style="left:552.7px;top:432.1px">类型</div>
<div class="a inp cmb" style="left:573.2px;top:430.3px;width:33.6px;height:11.7px;overflow:hidden"><span class="tx" style="position:absolute;left:1.5px;top:1px">浮点数</span><i></i></div>
<div class="a btn" style="left:560px;top:444.2px;width:30.4px;height:12.4px">选择</div>
<div class="a btn" style="left:560px;top:462px;width:31.4px;height:11.8px">执行</div>

<div class="a btn" style="left:353.1px;top:487.8px;width:27.1px;height:12.6px">总召</div>
<div class="a btn" style="left:398px;top:487.8px;width:39px;height:12.6px">召唤电度</div>
<div class="a btn" style="left:449.1px;top:487.8px;width:26.4px;height:12.6px">对时</div>
<div class="a btn" style="left:347.2px;top:522.6px;width:31.5px;height:12.9px"><span class="mono">OK</span></div>
<div class="a btn" style="left:389px;top:522.6px;width:31.7px;height:12.9px"><span class="mono">Cancel</span></div>

<!-- red highlight box -->
<div class="a" style="left:546px;top:380.4px;width:66.6px;height:98.8px;border:2px solid #e0302c;border-radius:2px"></div>

<!-- annotations -->
<svg class="a" style="left:0;top:0;overflow:visible" width="1268" height="607" viewBox="0 0 1268 607">
<path d="M917.2 212.4 L917.6 213.2 L1056 150 L1058.2 152 L1062.6 145.2 L1053.9 144.6 L1054.7 147.2 Z" fill="#e0261f"/>
<path d="M578.6 504 L577.8 504.3 L570.9 486.2 L567.9 487.2 L569.4 479 L576 484.4 L573.3 485.2 Z" fill="#e0261f"/>
</svg>
<div class="a" style="left:522.4px;top:502.5px;font-size:11px;letter-spacing:-0.34px;line-height:13px;color:#e0413a;white-space:nowrap">1、对遥调1点位写入值100</div>
<div class="a" style="left:959.1px;top:193.7px;font-size:11px;letter-spacing:-0.42px;line-height:13px;color:#e0413a;white-space:nowrap">2、可以看到写入遥调1的值</div>

</body></html>
